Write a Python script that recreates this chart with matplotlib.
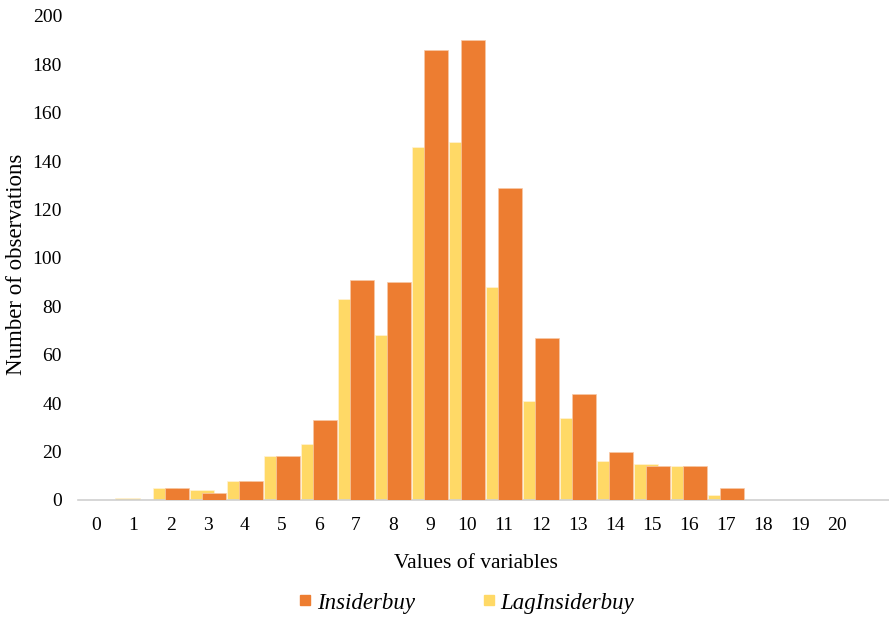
import numpy as np
import matplotlib.pyplot as plt
from matplotlib.lines import Line2D

plt.rcParams["font.family"] = ["Liberation Serif", "DejaVu Serif"]

values = list(range(0, 21))
insiderbuy = [0, 0, 5, 3, 8, 18, 33, 91, 90, 186, 190, 129, 67, 44, 20, 14, 14, 5, 0, 0, 0]
lag_insiderbuy = [0, 1, 5, 4, 8, 18, 23, 83, 68, 146, 148, 88, 41, 34, 16, 15, 14, 2, 0, 0, 0]

orange = "#ED7D31"
yellow = "#FFD966"

fig = plt.figure(figsize=(8.89, 6.17), dpi=100)
ax = fig.add_axes([78 / 889, 117 / 617, 811 / 889, 484 / 617])

x = np.arange(len(values))
w = 0.65
ax.bar(x - 0.1625, lag_insiderbuy, width=w, color=yellow, zorder=2,
       edgecolor="#fff3d6", linewidth=0.5)
ax.bar(x + 0.1625, insiderbuy, width=w, color=orange, zorder=3,
       edgecolor="#f7c9a8", linewidth=0.5)

ax.set_xlim(-0.5, 21.4)
ax.set_ylim(0, 200)
ax.set_yticks(range(0, 201, 20))
ax.set_xticks(x)
ax.set_xticklabels([str(v) for v in values])
ax.tick_params(axis="both", length=0, labelsize=14)
ax.tick_params(axis="x", pad=12)
ax.tick_params(axis="y", pad=11.5)

for s in ["top", "right", "left"]:
    ax.spines[s].set_visible(False)
ax.spines["bottom"].set_color("#d0d0d0")
ax.spines["bottom"].set_linewidth(1.2)

fig.text(17 / 889, 1 - 264 / 617, "Number of observations", rotation=90,
         ha="center", va="center", fontsize=16.5)
fig.text(476 / 889, 1 - 563 / 617, "Values of variables",
         ha="center", va="center", fontsize=15.5)

handles = [
    Line2D([], [], marker="s", linestyle="none", color=orange, markersize=6.5),
    Line2D([], [], marker="s", linestyle="none", color=yellow, markersize=6.5),
]
fig.legend(handles, ["Insiderbuy", "LagInsiderbuy"], loc="center",
           bbox_to_anchor=(467 / 889, 1 - 603 / 617), ncol=2, frameon=False,
           prop={"style": "italic", "size": 16.5}, handlelength=0.5,
           handletextpad=0.25, columnspacing=3.0)

fig.savefig("out.png", dpi=100)
